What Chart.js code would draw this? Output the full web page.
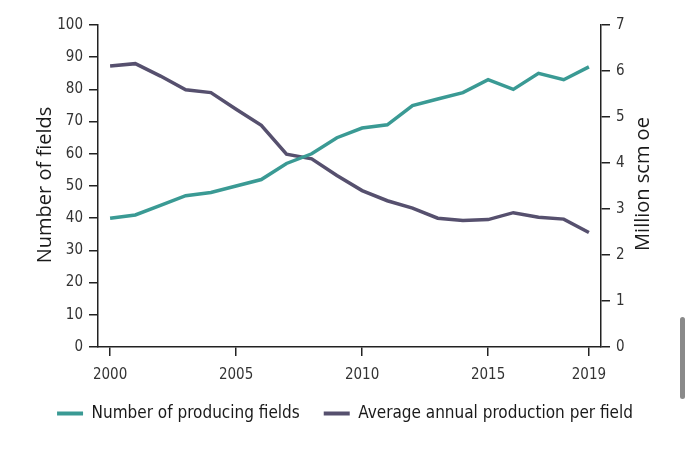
<!DOCTYPE html>
<html>
<head>
<meta charset="utf-8">
<script src="https://cdn.jsdelivr.net/npm/chart.js@4"></script>
<style>
  body { margin: 0; background: #fff; }
  #wrap { position: relative; width: 690px; height: 457px; }
  #bar { position: absolute; left: 680px; top: 317px; width: 5px; height: 82px; border-radius: 3px; background: #8a8a8a; }
</style>
</head>
<body>
<div id="wrap">
  <canvas id="chart"></canvas>
  <div id="bar"></div>
</div>
<script>
const years = [2000, 2001, 2002, 2003, 2004, 2005, 2006, 2007, 2008, 2009,
               2010, 2011, 2012, 2013, 2014, 2015, 2016, 2017, 2018, 2019];
const fields = [40, 41, 44, 47, 48, 50, 52, 57, 60, 65,
                68, 69, 75, 77, 79, 83, 80, 85, 83, 87];
const production = [6.11, 6.16, 5.89, 5.59, 5.53, 5.17, 4.82, 4.19, 4.09, 3.73,
                    3.40, 3.18, 3.02, 2.80, 2.75, 2.77, 2.92, 2.82, 2.78, 2.49];
const xTickYears = [2000, 2005, 2010, 2015, 2019];
const leftTitle = "Number of fields";
const rightTitle = "Million scm oe";

const teal = "#3a9a94";
const purple = "#56506e";
const axisColor = "#222";
const narrow = "'DejaVu Sans Condensed', Roboto, sans-serif";
const tickFont = { family: narrow, size: 15 };

const axisTitles = {
    id: "axisTitles",
    afterDraw(chart) {
        const ctx = chart.ctx;
        [[leftTitle, 45, 185], [rightTitle, 643, 184]].forEach(([text, x, y]) => {
            ctx.save();
            ctx.fillStyle = "#1a1a1a";
            ctx.font = "20px 'Open Sans'";
            ctx.textAlign = "center";
            ctx.textBaseline = "middle";
            ctx.translate(x, y);
            ctx.rotate(-Math.PI / 2);
            ctx.fillText(text, 0, 0);
            ctx.restore();
        });
    }
};

function axisGrid() {
    return { drawOnChartArea: false, drawTicks: true, tickLength: 9, color: axisColor, lineWidth: 1.5 };
}

new Chart(document.getElementById("chart"), {
    type: "line",
    data: {
        datasets: [{
            label: "Number of producing fields",
            data: years.map((y, i) => ({ x: y, y: fields[i] })),
            borderColor: teal,
            backgroundColor: teal,
            borderWidth: 3.5,
            pointRadius: 0,
            tension: 0,
            yAxisID: "y"
        }, {
            label: "Average annual production per field",
            data: years.map((y, i) => ({ x: y, y: production[i] })),
            borderColor: purple,
            backgroundColor: purple,
            borderWidth: 3.5,
            pointRadius: 0,
            tension: 0,
            yAxisID: "y2"
        }]
    },
    options: {
        responsive: true,
        maintainAspectRatio: false,
        animation: false,
        layout: { padding: { top: 25, left: 0, right: 0, bottom: 25 } },
        plugins: {
            tooltip: { enabled: false },
            legend: {
                position: "bottom",
                labels: {
                    boxWidth: 26,
                    boxHeight: 4,
                    padding: 24,
                    color: "#1a1a1a",
                    font: { family: narrow, size: 17 },
                    generateLabels(chart) {
                        return Chart.defaults.plugins.legend.labels.generateLabels(chart).map(l => {
                            l.lineWidth = 0;
                            return l;
                        });
                    }
                }
            }
        },
        scales: {
            x: {
                type: "linear",
                min: 1999.52,
                max: 2019.48,
                grid: axisGrid(),
                border: { color: axisColor, width: 1.5 },
                afterBuildTicks: s => { s.ticks = xTickYears.map(v => ({ value: v })); },
                afterFit: s => { s.height = 34; },
                ticks: { font: tickFont, color: "#333", padding: 10, maxRotation: 0, callback: v => String(v) }
            },
            y: {
                position: "left",
                min: 0,
                max: 100,
                grid: axisGrid(),
                border: { color: axisColor, width: 1.5 },
                afterFit: s => { s.width = 98; },
                ticks: { stepSize: 10, font: tickFont, color: "#333", padding: 6 }
            },
            y2: {
                position: "right",
                min: 0,
                max: 7,
                grid: axisGrid(),
                border: { color: axisColor, width: 1.5 },
                afterFit: s => { s.width = 89; },
                ticks: { stepSize: 1, font: tickFont, color: "#333", padding: 6 }
            }
        }
    },
    plugins: [axisTitles]
});
</script>
</body>
</html>
